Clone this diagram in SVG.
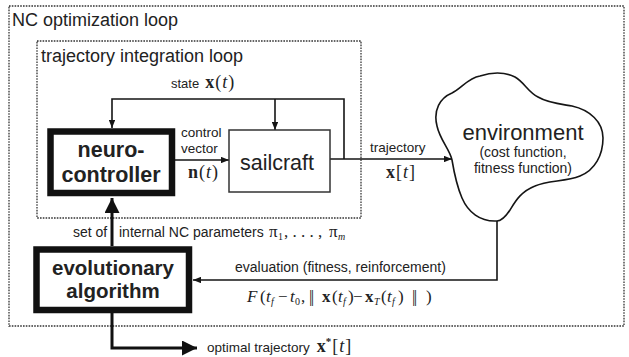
<svg xmlns="http://www.w3.org/2000/svg" width="629" height="357" viewBox="0 0 629 357">
  <style>
    .sans { font-family: "Liberation Sans", Arial, sans-serif; fill: #222; }
    .serif { font-family: "Liberation Serif", "Times New Roman", serif; fill: #222; }
    .loop { fill: none; stroke: #333; stroke-width: 1.3; stroke-dasharray: 1.6 1.2; }
    .wire { fill: none; stroke: #151515; stroke-width: 1.6; }
    .bold-wire { fill: none; stroke: #111; stroke-width: 3; }
    .thick-box { fill: #fff; stroke: #111; stroke-width: 6.5; }
    .thin-box { fill: #fff; stroke: #333; stroke-width: 1.5; }
    .sub { font-size: 10px; }
    .it { font-style: italic; }
    .bf { font-weight: bold; }
    .norm { letter-spacing: -1.6px; }
  </style>
  <defs>
    <marker id="arrow-small" viewBox="0 0 10 8" refX="10" refY="4" markerWidth="8" markerHeight="6.4" markerUnits="userSpaceOnUse" orient="auto">
      <path d="M0,0 L10,4 L0,8 Z" fill="#151515"/>
    </marker>
    <marker id="arrow-big" viewBox="0 0 14 14" refX="14" refY="7" markerWidth="15" markerHeight="15" markerUnits="userSpaceOnUse" orient="auto">
      <path d="M0,0 L14,7 L0,14 Z" fill="#111"/>
    </marker>
  </defs>

  <rect width="629" height="357" fill="#fff"/>

  <!-- outer loop frame -->
  <g id="nc-optimization-loop">
    <rect class="loop" x="9" y="6" width="615" height="320" fill="#fff"/>
    <text class="sans" x="12" y="26" font-size="18">NC optimization loop</text>
  </g>

  <!-- inner loop frame -->
  <g id="trajectory-integration-loop">
    <rect class="loop" x="37" y="41" width="324" height="177" fill="#f4f4f4"/>
    <text class="sans" x="41" y="62" font-size="18">trajectory integration loop</text>
  </g>

  <!-- connectors -->
  <g id="connectors">
    <!-- state feedback -->
    <path class="wire" d="M344,159 V99 H112 V128" marker-end="url(#arrow-small)"/>
    <path class="wire" d="M275,99 V130" marker-end="url(#arrow-small)"/>
    <!-- control vector -->
    <path class="wire" d="M175,160 H229" marker-end="url(#arrow-small)"/>
    <!-- trajectory to environment -->
    <path class="wire" d="M330,159 H452" marker-end="url(#arrow-small)"/>
    <!-- evaluation back to the algorithm -->
    <path class="wire" d="M497,221 V280 H193" marker-end="url(#arrow-small)"/>
    <!-- parameter set up to the controller -->
    <path class="bold-wire" d="M112,246 V198" marker-end="url(#arrow-big)"/>
    <!-- optimal trajectory output -->
    <path class="bold-wire" d="M112,313 V348 H197" marker-end="url(#arrow-big)"/>
  </g>

  <!-- connector labels -->
  <g id="labels">
    <text x="171" y="88"><tspan class="sans" font-size="13">state</tspan><tspan class="serif bf" font-size="18" dx="6">x</tspan><tspan class="serif" font-size="18" dx="1">(</tspan><tspan class="serif it" font-size="18" dx="1">t</tspan><tspan class="serif" font-size="18" dx="1">)</tspan></text>
    <text class="sans" x="181" y="137" font-size="13.5">control</text>
    <text class="sans" x="181" y="153" font-size="13.5">vector</text>
    <text x="188" y="178"><tspan class="serif bf" font-size="18">n</tspan><tspan class="serif" font-size="18" dx="1">(</tspan><tspan class="serif it" font-size="18" dx="1">t</tspan><tspan class="serif" font-size="18" dx="1">)</tspan></text>
    <text class="sans" x="370" y="152" font-size="13.5">trajectory</text>
    <text x="386" y="178"><tspan class="serif bf" font-size="18">x</tspan><tspan class="serif" font-size="18" dx="1">[</tspan><tspan class="serif it" font-size="18" dx="1">t</tspan><tspan class="serif" font-size="18" dx="1">]</tspan></text>
    <text class="sans" x="73" y="237" font-size="14">set of</text>
    <text class="sans" x="119" y="237" font-size="14">internal NC parameters</text>
    <text class="serif" y="237" font-size="17"><tspan x="269">π</tspan><tspan class="sub" x="278" dy="3">1</tspan><tspan x="284" dy="-3">, . . . ,</tspan><tspan x="329">π</tspan><tspan class="sub it" x="338" dy="3">m</tspan></text>
    <text class="sans" x="235" y="272" font-size="14">evaluation (fitness, reinforcement)</text>
    <!-- fitness function F(t_f - t_0, ||x(t_f) - x_T(t_f)||) -->
    <text class="serif" y="302" font-size="17"><tspan class="it" x="247">F</tspan><tspan x="260">(</tspan><tspan class="it" x="266">t</tspan><tspan class="sub it" x="271" dy="3">f</tspan><tspan x="278" dy="-3">−</tspan><tspan class="it" x="290">t</tspan><tspan class="sub" x="295" dy="3">0</tspan><tspan x="301" dy="-3">,</tspan><tspan class="norm" x="309">||</tspan><tspan class="bf" x="322">x</tspan><tspan x="332">(</tspan><tspan class="it" x="338">t</tspan><tspan class="sub it" x="343" dy="3">f</tspan><tspan x="348" dy="-3">)</tspan><tspan x="353">−</tspan><tspan class="bf" x="365">x</tspan><tspan class="sub it" x="374" dy="3">T</tspan><tspan x="381" dy="-3">(</tspan><tspan class="it" x="387">t</tspan><tspan class="sub it" x="392" dy="3">f</tspan><tspan x="398" dy="-3">)</tspan><tspan class="norm" x="412">||</tspan><tspan x="426">)</tspan></text>
    <text x="207" y="352"><tspan class="sans" font-size="13.5">optimal trajectory</tspan><tspan class="serif bf" font-size="18" dx="7">x</tspan><tspan class="serif bf" font-size="11" dy="-7">*</tspan><tspan class="serif" font-size="18" dy="7" dx="1">[</tspan><tspan class="serif it" font-size="18" dx="1">t</tspan><tspan class="serif" font-size="18" dx="1">]</tspan></text>
  </g>

  <!-- nodes -->
  <g id="neuro-controller">
    <rect class="thick-box" x="50.5" y="131.5" width="121.5" height="61.5"/>
    <text class="sans" x="111" y="157" font-size="21.5" font-weight="bold" text-anchor="middle">neuro-</text>
    <text class="sans" x="111" y="182" font-size="21.5" font-weight="bold" text-anchor="middle">controller</text>
  </g>

  <g id="sailcraft">
    <rect class="thin-box" x="229" y="130" width="101" height="62"/>
    <text class="sans" x="277" y="170" font-size="21.5" text-anchor="middle">sailcraft</text>
  </g>

  <g id="environment">
    <path d="M497,221 C480,222 468,212 462,198 C456,184 454,172 452,160 C450,150 440,140 437,126 C433,110 440,98 452,93 C462,88 468,78 480,76 C492,72 505,72 515,77 C524,82 528,92 538,97 C548,103 560,104 572,106 C590,110 603,122 603,138 C603,155 595,170 580,176 C565,182 548,180 535,186 C520,192 515,202 510,210 C506,216 502,221 497,221 Z" fill="#fff" stroke="#151515" stroke-width="1.6"/>
    <text class="sans" x="523" y="140" font-size="22" text-anchor="middle">environment</text>
    <text class="sans" x="523" y="157" font-size="14" text-anchor="middle">(cost function,</text>
    <text class="sans" x="523" y="173" font-size="14" text-anchor="middle">fitness function)</text>
  </g>

  <g id="evolutionary-algorithm">
    <rect class="thick-box" x="36.5" y="249.5" width="152.5" height="60.5"/>
    <text class="sans" x="113" y="275" font-size="20.5" font-weight="bold" text-anchor="middle">evolutionary</text>
    <text class="sans" x="113" y="298" font-size="20.5" font-weight="bold" text-anchor="middle">algorithm</text>
  </g>
</svg>
